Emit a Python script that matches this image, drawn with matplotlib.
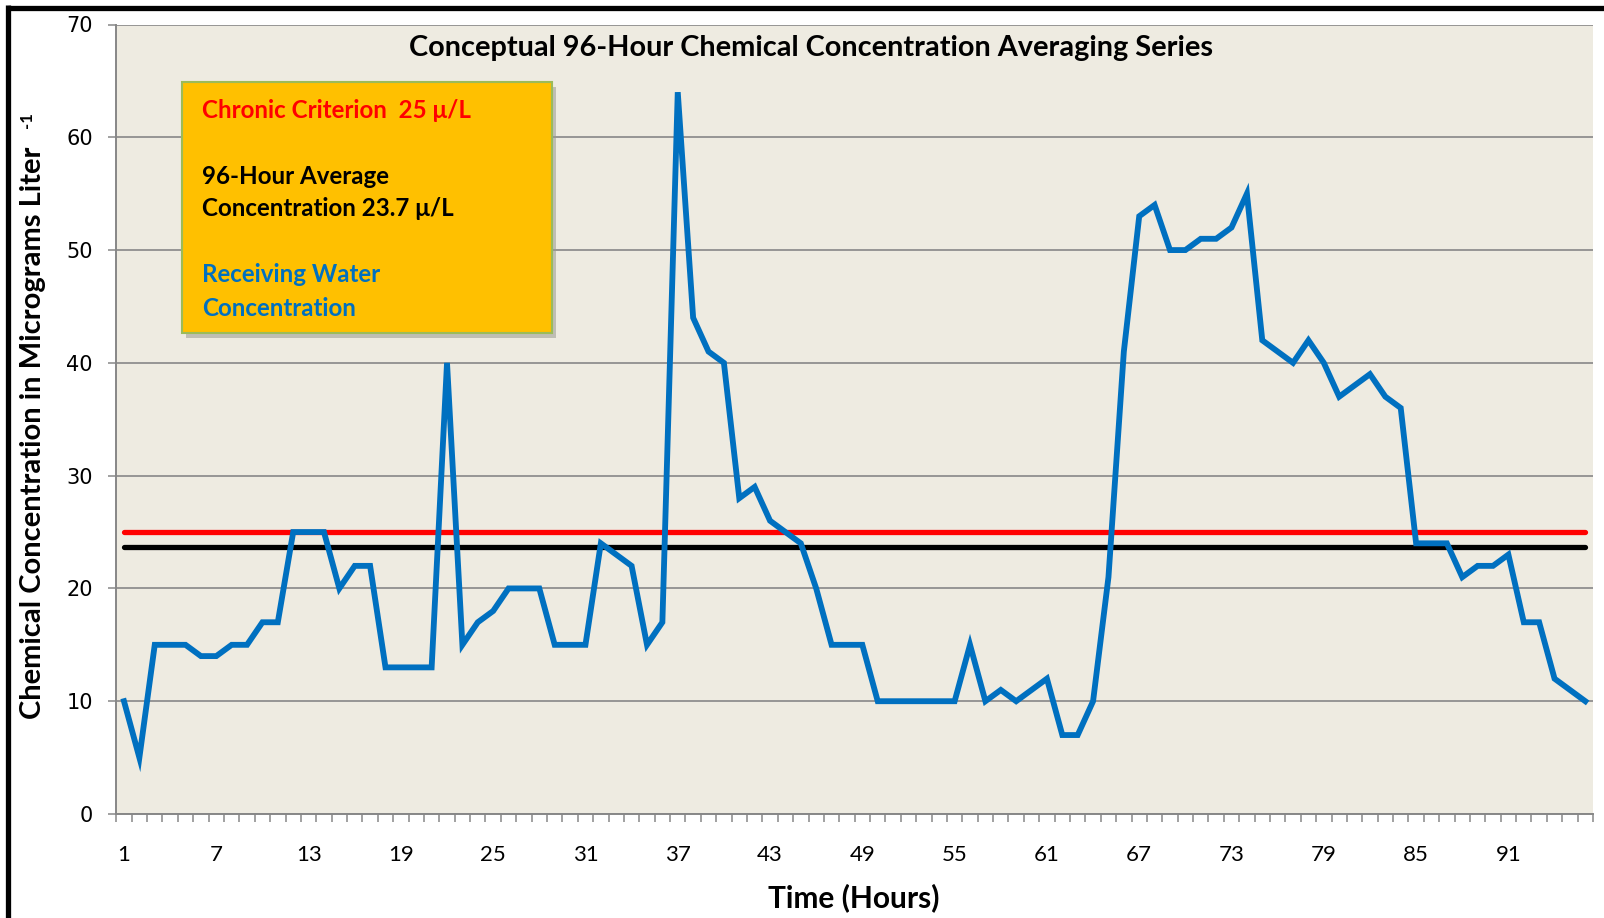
import numpy as np
import matplotlib
matplotlib.use("Agg")
import matplotlib.pyplot as plt
from matplotlib.patches import Rectangle
from matplotlib.lines import Line2D

# hourly receiving water concentrations (ug/L) over the 96-hour window
hours = np.arange(1, 97)
concentration = [
    10, 5, 15, 15, 15, 14, 14, 15, 15, 17,
    17, 25, 25, 25, 20, 22, 22, 13, 13, 13,
    13, 40, 15, 17, 18, 20, 20, 20, 15, 15,
    15, 24, 23, 22, 15, 17, 64, 44, 41, 40,
    28, 29, 26, 25, 24, 20, 15, 15, 15, 10,
    10, 10, 10, 10, 10, 15, 10, 11, 10, 11,
    12, 7, 7, 10, 21, 41, 53, 54, 50, 50,
    51, 51, 52, 55, 42, 41, 40, 42, 40, 37,
    38, 39, 37, 36, 24, 24, 24, 21, 22, 22,
    23, 17, 17, 12, 11, 10,
]
criterion = 25
tick_hours = list(range(1, 92, 6))

average = round(float(np.mean(concentration)), 1)

W, H = 1604, 918
fig = plt.figure(figsize=(W / 100, H / 100), dpi=100)
fig.patch.set_facecolor("white")

ax_left, ax_right, ax_top, ax_bottom = 116.3, 1593, 24.5, 814
ax = fig.add_axes([ax_left / W, 1 - ax_bottom / H,
                   (ax_right - ax_left) / W, (ax_bottom - ax_top) / H])
ax.set_facecolor("#EEEBE1")

grid_col = "#878787"
ax.set_ylim(0, 70)
ax.set_xlim(0.5, 96.5)
ax.set_yticks(range(0, 71, 10))
ax.yaxis.grid(True, color=grid_col, lw=1.2)
ax.set_axisbelow(True)
for s in ("top", "right"):
    ax.spines[s].set_visible(False)
for s in ("left", "bottom"):
    ax.spines[s].set_color(grid_col)
    ax.spines[s].set_linewidth(1.4)

ax.set_xticks(tick_hours)
ax.set_xticklabels([str(h) for h in tick_hours], family=["Lato", "DejaVu Sans"], fontsize=16)
ax.set_xticks(np.arange(0.5, 97, 1), minor=True)
ax.tick_params(axis="x", which="major", length=0, pad=22)
ax.tick_params(axis="x", which="minor", length=6, width=1.1, color=grid_col)
ax.tick_params(axis="y", length=6, width=1.1, color=grid_col, pad=11, labelsize=15)

lw = 3.8
ax.plot(hours, [criterion] * len(hours), color="#FF0000", lw=lw, solid_capstyle="round", zorder=3)
ax.plot(hours, [average] * len(hours), color="black", lw=lw, solid_capstyle="round", zorder=3)
ax.plot(hours, concentration, color="#0070C0", lw=4.2, solid_joinstyle="miter", zorder=4)

font = ["Lato", "DejaVu Sans"]

fig.text(811 / W, 1 - 48 / H, "Conceptual 96-Hour Chemical Concentration Averaging Series",
         ha="center", va="center", fontsize=20.8, fontweight="bold", family=font)

fig.text(33 / W, 1 - 433 / H, "Chemical Concentration in Micrograms Liter",
         rotation=90, ha="center", va="center", fontsize=21, fontweight="bold", family=font)
fig.text(27 / W, 1 - 120 / H, "-1", rotation=90, ha="center", va="center",
         fontsize=12, fontweight="bold", family=font)

fig.text(854 / W, 1 - 898 / H, "Time (Hours)", ha="center", va="center",
         fontsize=21.5, fontweight="bold", family=font)

# annotation box with drop shadow
bx0, by0, bx1, by1 = 182, 82, 552, 333
fig.add_artist(Rectangle(((bx0 + 4) / W, 1 - (by1 + 5) / H), (bx1 - bx0) / W, (by1 - by0) / H,
                         transform=fig.transFigure, facecolor="#9A9A90", alpha=0.55,
                         edgecolor="none", zorder=5))
fig.add_artist(Rectangle((bx0 / W, 1 - by1 / H), (bx1 - bx0) / W, (by1 - by0) / H,
                         transform=fig.transFigure, facecolor="#FFC000",
                         edgecolor="#9BBB59", lw=1.5, zorder=6))

tx = 202 / W
box_lines = [
    (111, "Chronic Criterion  %g \u03bc/L" % criterion, "#FF0000"),
    (176, "96-Hour Average", "black"),
    (209, "Concentration %.1f \u03bc/L" % average, "black"),
    (275, "Receiving Water", "#0070C0"),
    (308, "Concentration", "#0070C0"),
]
for y, txt, col in box_lines:
    fig.text(tx, 1 - y / H, txt, ha="left", va="center", color=col,
             fontsize=17.4, fontweight="bold", family=font, zorder=7)

# black frame along the top and left edges
fig.add_artist(Line2D([7.5 / W, 1], [1 - 7.5 / H] * 2, transform=fig.transFigure,
                      color="black", lw=3.8, solid_capstyle="butt"))
fig.add_artist(Line2D([7.5 / W] * 2, [0, 1 - 5 / H], transform=fig.transFigure,
                      color="black", lw=3.8, solid_capstyle="butt"))

fig.savefig("out.png", dpi=100)
